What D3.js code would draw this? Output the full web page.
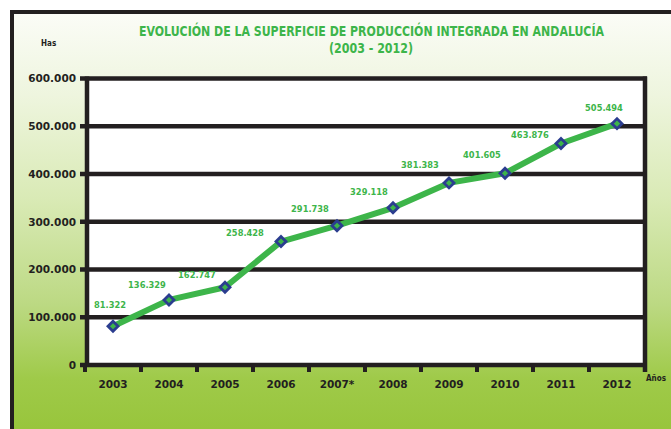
<!DOCTYPE html>
<html><head><meta charset="utf-8">
<script src="https://cdn.jsdelivr.net/npm/d3@7/dist/d3.min.js"></script>
<style>body{margin:0;background:#fff}svg{display:block}</style>
</head><body>
<svg id="c" width="671" height="429"></svg>
<script>
const years = ["2003","2004","2005","2006","2007*","2008","2009","2010","2011","2012"];
const surface = [81322,136329,162747,258428,291738,329118,381383,401605,463876,505494];
const valueLabels = ["81.322","136.329","162.747","258.428","291.738","329.118","381.383","401.605","463.876","505.494"];
const yTickValues = [0,100000,200000,300000,400000,500000,600000];
const yTickLabels = ["0","100.000","200.000","300.000","400.000","500.000","600.000"];
const titleLines = ["EVOLUCIÓN DE LA SUPERFICIE DE PRODUCCIÓN INTEGRADA EN ANDALUCÍA","(2003 - 2012)"];

// layout (label nudges relative to each point, pixels)
const labelNudge = [[-3,-21],[-22,-15],[-28,-12],[-36,-9],[-27,-17],[-24,-16],[-29,-18],[-23,-18],[-31,-8],[-13,-16]];

const svg = d3.select("#c");
const W=671,H=429;
const dark="#231f20", green="#3db54a", blue="#2b3d8f";

const defs=svg.append("defs");
const g=defs.append("linearGradient").attr("id","bg").attr("x1",0).attr("y1",0).attr("x2",0).attr("y2",1);
[[0,"#fbfcf7"],[0.2,"#eef5de"],[0.45,"#d9eab5"],[0.7,"#bcd983"],[0.88,"#9fca49"],[1,"#98c53c"]].forEach(s=>g.append("stop").attr("offset",s[0]).attr("stop-color",s[1]));
svg.append("rect").attr("x",12).attr("y",12).attr("width",W-12).attr("height",H-12).attr("fill","url(#bg)");
// frame lines
svg.append("line").attr("x1",10).attr("x2",W).attr("y1",12).attr("y2",12).attr("stroke",dark).attr("stroke-width",4);
svg.append("line").attr("x1",12).attr("x2",12).attr("y1",10).attr("y2",H).attr("stroke",dark).attr("stroke-width",4);

const x=d3.scaleBand().domain(years).range([85,645]);
const y=d3.scaleLinear().domain([0,600000]).range([365,78.5]);

// plot white area
svg.append("rect").attr("x",87).attr("y",y(600000)).attr("width",645-87).attr("height",y(0)-y(600000)).attr("fill","#fff");

// gridlines
svg.append("g").selectAll("line").data(yTickValues).join("line")
  .attr("x1",80).attr("x2",647).attr("y1",d=>y(d)).attr("y2",d=>y(d))
  .attr("stroke",dark).attr("stroke-width",4.5);
// left axis & right border
svg.append("line").attr("x1",87).attr("x2",87).attr("y1",y(600000)-2).attr("y2",367).attr("stroke",dark).attr("stroke-width",4.5);
svg.append("line").attr("x1",645).attr("x2",645).attr("y1",y(600000)-2).attr("y2",372).attr("stroke",dark).attr("stroke-width",4.5);

// y axis labels via d3 axis
const ya=svg.append("g").attr("transform","translate(80,0)")
  .call(d3.axisLeft(y).tickValues(yTickValues).tickSize(0).tickPadding(4).tickFormat((d,i)=>yTickLabels[i]));
ya.select(".domain").remove();
ya.selectAll("text").attr("font-family","DejaVu Sans").attr("font-weight","bold").attr("font-size","10.5px").attr("fill",dark);

// x axis
const xa=svg.append("g").attr("transform","translate(0,365)")
  .call(d3.axisBottom(x).tickSize(0).tickPadding(16));
xa.select(".domain").remove();
xa.selectAll("text").attr("font-family","DejaVu Sans").attr("font-weight","bold").attr("font-size","10.5px").attr("fill",dark);
// bottom ticks at band boundaries
const bounds=years.map(d=>x(d));
svg.append("g").selectAll("line").data(bounds).join("line")
  .attr("x1",d=>d).attr("x2",d=>d).attr("y1",365).attr("y2",372)
  .attr("stroke",dark).attr("stroke-width",4);

// line
const line=d3.line().x((d,i)=>x(years[i])+x.bandwidth()/2).y(d=>y(d));
svg.append("path").datum(surface).attr("d",line).attr("fill","none").attr("stroke",green).attr("stroke-width",6).attr("stroke-linejoin","round");
// markers
svg.append("g").selectAll("path").data(surface).join("path")
  .attr("transform",(d,i)=>`translate(${x(years[i])+x.bandwidth()/2},${y(d)})`)
  .attr("d","M0,-5L5,0L0,5L-5,0Z")
  .attr("fill",green).attr("stroke",blue).attr("stroke-width",2.8);
// value labels
svg.append("g").selectAll("text").data(surface).join("text")
  .attr("x",(d,i)=>x(years[i])+x.bandwidth()/2+labelNudge[i][0])
  .attr("y",(d,i)=>y(d)+labelNudge[i][1]+3)
  .attr("text-anchor","middle").attr("font-family","DejaVu Sans").attr("font-weight","bold")
  .attr("font-size","8.3px").attr("fill",green).text((d,i)=>valueLabels[i]);

// title
const tf="'Liberation Sans Narrow','DejaVu Sans Condensed',sans-serif";
svg.append("text").attr("x",371.5).attr("y",35.5).attr("text-anchor","middle")
  .attr("font-family",tf).attr("font-weight","bold")
  .attr("font-size","13.5px").attr("fill",green).text(titleLines[0])
  .attr("textLength",465).attr("lengthAdjust","spacingAndGlyphs");
svg.append("text").attr("x",371).attr("y",52.5).attr("text-anchor","middle")
  .attr("font-family",tf).attr("font-weight","bold")
  .attr("font-size","13.5px").attr("fill",green).text(titleLines[1])
  .attr("textLength",84).attr("lengthAdjust","spacingAndGlyphs");

svg.append("text").attr("x",41).attr("y",46).attr("font-family",tf)
  .attr("font-weight","bold").attr("font-size","8px").attr("fill",dark).text("Has");
svg.append("text").attr("x",646).attr("y",381).attr("font-family",tf)
  .attr("font-weight","bold").attr("font-size","8px").attr("fill",dark).text("Años");
</script>
</body></html>
